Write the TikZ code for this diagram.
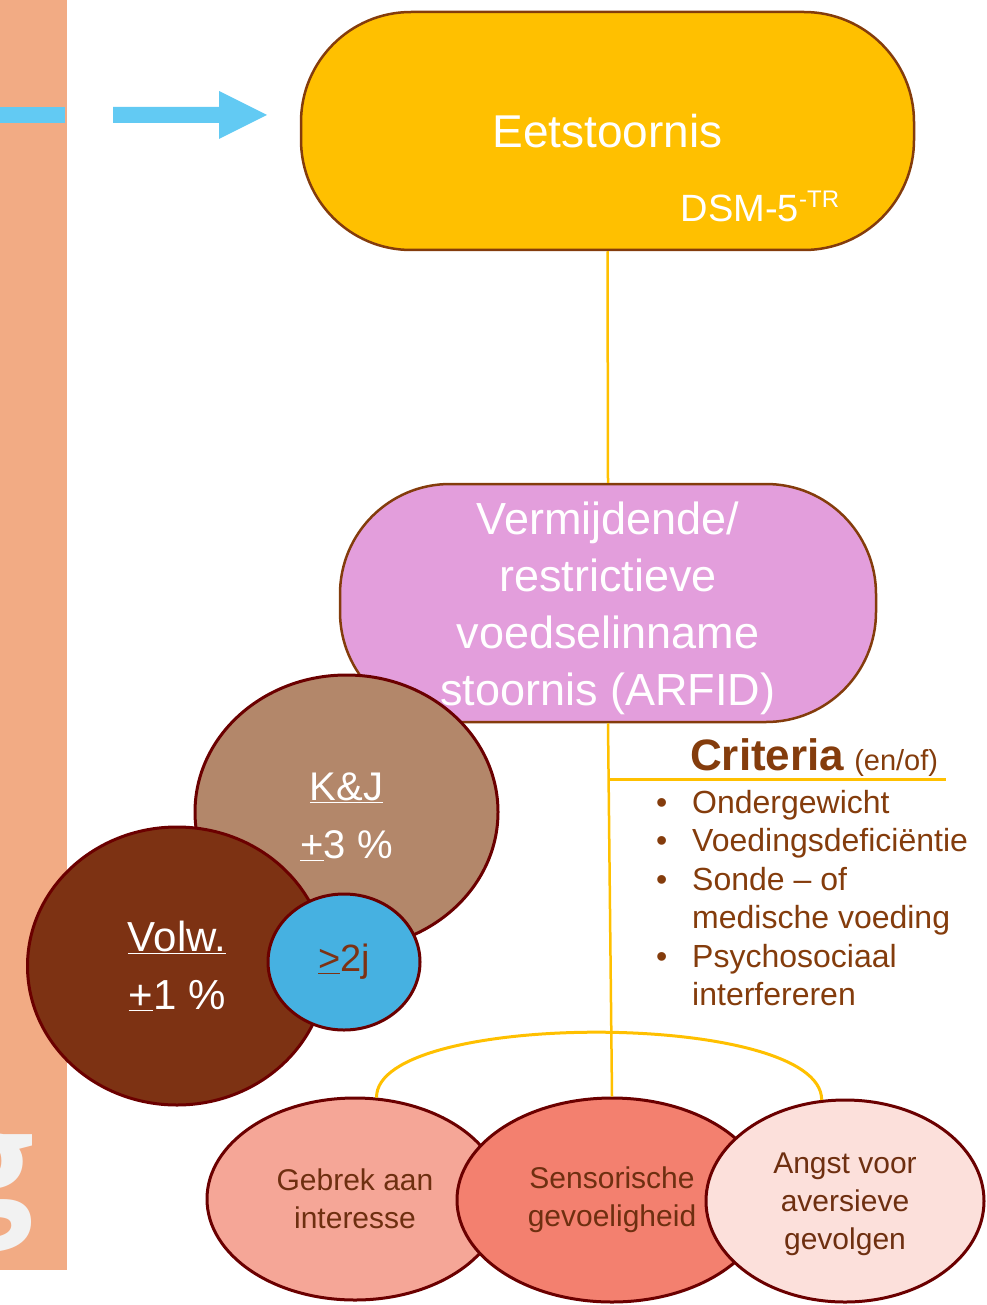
\documentclass[tikz,border=0pt]{standalone}
\usepackage{fontspec}
\setmainfont{Liberation Sans}
\newfontfamily\gfont{Open Sans}
\usetikzlibrary{shapes.geometric}
\definecolor{barorange}{HTML}{F2AB84}
\definecolor{arrowblue}{HTML}{62CAF3}
\definecolor{gold}{HTML}{FFC000}
\definecolor{boxbrown}{HTML}{843C0C}
\definecolor{arfidpink}{HTML}{E39EDC}
\definecolor{tan}{HTML}{B3876A}
\definecolor{darkbrown}{HTML}{7D3213}
\definecolor{skyblue}{HTML}{46B1E1}
\definecolor{darkred}{HTML}{6B0000}
\definecolor{salmonA}{HTML}{F5A697}
\definecolor{salmonB}{HTML}{F3806F}
\definecolor{salmonC}{HTML}{FCE0DB}
\definecolor{ellipsetext}{HTML}{6E2F10}
\definecolor{gletter}{HTML}{F2F2F2}
\tikzset{
  bigbox/.style={draw=boxbrown, line width=2.5pt, rounded corners=110pt, inner sep=0pt, align=center, text=white},
  blob/.style={ellipse, draw=darkred, line width=3pt, inner sep=0pt, align=center},
  goldline/.style={draw=gold, line width=2.5pt},
  crit/.style={anchor=base west, inner sep=0pt, text=boxbrown, font=\fontsize{32}{38}\selectfont},
  bottomtxt/.style={text=ellipsetext, font=\fontsize{30}{38}\selectfont},
  intext/.style={inner sep=0pt, align=center},
}
\begin{document}
\begin{tikzpicture}[x=1pt,y=-1pt]
\useasboundingbox (0,0) rectangle (986,1305);
% left orange bar with blue stub and partial letter
\fill[barorange] (0,0) rectangle (67,1270);
\fill[arrowblue] (0,107) rectangle (65,123);
\begin{scope}
\clip (0,0) rectangle (67,1270);
\node[anchor=base east, inner sep=0pt, text=gletter, font=\gfont\bfseries\fontsize{150}{150}\selectfont] (gl) at (34,1216) {g};
\end{scope}
% blue arrow
\fill[arrowblue] (113,107) -- (219,107) -- (219,91) -- (267,115) -- (219,139) -- (219,123) -- (113,123) -- cycle;
% main boxes
\node[bigbox, fill=gold, minimum width=613pt, minimum height=238pt, font=\fontsize{46}{50}\selectfont] (eet) at (607.5,131) {Eetstoornis};
\node[anchor=base, inner sep=0pt, text=white, font=\fontsize{38}{40}\selectfont] (dsm) at (760,222) {DSM-5\raisebox{14pt}{\fontsize{24}{26}\selectfont-TR}};
\node[bigbox, fill=arfidpink, minimum width=536pt, minimum height=238pt] (arfid) at (608,603) {};
\node[intext, text=white, font=\fontsize{45}{57}\selectfont] (arfidtext) at ([yshift=-5pt]arfid.center) {Vermijdende/\\restrictieve\\voedselinname\\stoornis (ARFID)};
% prevalence circles
\node[blob, fill=tan, minimum width=303pt, minimum height=274pt] (kj) at (346.5,812) {};
\node[intext, text=white, font=\fontsize{40}{58}\selectfont] (kjtext) at ([yshift=-5pt]kj.center) {\underline{K\&J}\\\underline{+}3 \%};
\node[blob, fill=darkbrown, text=white, minimum width=299pt, minimum height=278pt, font=\fontsize{42}{58}\selectfont] (volw) at (177,966) {\underline{Volw.}\\\underline{+}1 \%};
\node[blob, fill=skyblue, text=darkbrown, minimum width=152pt, minimum height=136pt, font=\fontsize{38}{40}\selectfont] (yr) at (344,962) {\underline{>}2j};
% bottom ellipses
\node[blob, fill=salmonA, minimum width=296pt, minimum height=202pt, bottomtxt] (geb) at (355,1199) {Gebrek aan\\interesse};
\node[blob, fill=salmonB, minimum width=310pt, minimum height=204pt, bottomtxt] (sens) at (612,1200) {Sensorische\\gevoeligheid};
\node[blob, fill=salmonC, minimum width=278pt, minimum height=202pt] (ang) at (845,1201) {};
\node[intext, bottomtxt] (angtext) at ([yshift=-3pt]ang.center) {Angst voor\\aversieve\\gevolgen};
% connectors
\draw[goldline] (eet.south) -- (arfid.north);
\draw[goldline] (arfid.south) -- (sens.north);
\coordinate (cj) at (609.5,779);
\coordinate (cend) at (946,779);
\draw[goldline, line width=3pt] (cj) -- (cend);
\draw[goldline, line width=3pt] (geb.78) .. controls (375,1010) and (822,1010) .. (ang.103);
% criteria
\node[anchor=base west, inner sep=0pt, text=boxbrown] (crit) at (690,770) {{\bfseries\fontsize{44}{46}\selectfont Criteria}\hspace{10pt}{\fontsize{29}{30}\selectfont (en/of)}};
\node[crit] (c1) at (656,813) {\makebox[36pt][l]{•}Ondergewicht};
\node[crit] (c2) at (656,851.5) {\makebox[36pt][l]{•}Voedingsdeficiëntie};
\node[crit] (c3) at (656,890) {\makebox[36pt][l]{•}Sonde – of};
\node[crit] (c4) at (656,928.5) {\makebox[36pt][l]{}medische voeding};
\node[crit] (c5) at (656,967) {\makebox[36pt][l]{•}Psychosociaal};
\node[crit] (c6) at (656,1005.5) {\makebox[36pt][l]{}interfereren};
\end{tikzpicture}
\end{document}
